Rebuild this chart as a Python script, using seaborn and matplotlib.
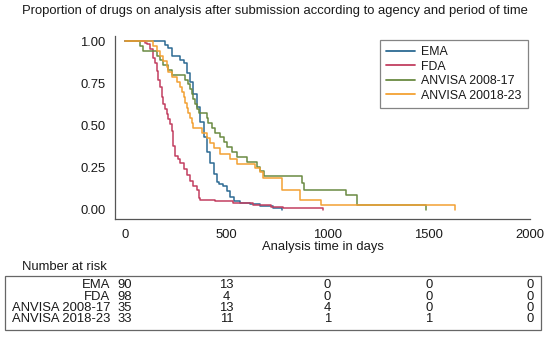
import matplotlib
matplotlib.use("Agg")
import matplotlib.pyplot as plt
import matplotlib.transforms as mtransforms
from matplotlib.patches import Rectangle
from matplotlib.lines import Line2D
import seaborn as sns
import pandas as pd

# ---------------- data ----------------
groups = ["EMA", "FDA", "ANVISA 2008-17", "ANVISA 2018-23"]
legend_labels = ["EMA", "FDA", "ANVISA 2008-17", "ANVISA 20018-23"]
colors = ["#2c6a93", "#c23f60", "#6a8a42", "#f3a133"]

ema_days = [0, 198, 214, 231, 272, 289, 305, 322, 338, 355, 371, 388, 404, 421,
            437, 454, 462, 485, 503, 520, 536, 569, 619, 668, 733, 777]
ema_surv = [1.0, 0.978, 0.956, 0.911, 0.889, 0.867, 0.811, 0.756, 0.689, 0.611,
            0.522, 0.433, 0.344, 0.278, 0.211, 0.167, 0.156, 0.144, 0.111, 0.078,
            0.056, 0.044, 0.033, 0.022, 0.011, 0.0]

fda_days = [0, 99, 109, 124, 139, 149, 158, 163, 173, 182, 190, 198, 206, 214,
            223, 231, 239, 248, 264, 272, 289, 305, 322, 338, 355, 363, 369, 446,
            535, 634, 720, 782, 979]
fda_surv = [1.0, 0.99, 0.98, 0.95, 0.90, 0.87, 0.82, 0.77, 0.73, 0.67, 0.63, 0.60,
            0.57, 0.54, 0.51, 0.47, 0.38, 0.32, 0.30, 0.28, 0.24, 0.21, 0.17, 0.14,
            0.12, 0.07, 0.061, 0.051, 0.041, 0.031, 0.020, 0.010, 0.0]

anv1_days = [0, 74, 91, 157, 173, 190, 213, 233, 297, 312, 322, 330, 338, 347,
             355, 363, 404, 412, 429, 446, 470, 487, 503, 528, 553, 602, 652, 668,
             685, 875, 884, 1089, 1147, 1485]
anv1_surv = [1.0, 0.971, 0.943, 0.914, 0.886, 0.857, 0.829, 0.800, 0.771, 0.743,
             0.714, 0.686, 0.657, 0.629, 0.600, 0.571, 0.543, 0.514, 0.486, 0.457,
             0.429, 0.400, 0.371, 0.343, 0.314, 0.286, 0.257, 0.229, 0.200, 0.157,
             0.118, 0.089, 0.030, 0.0]

anv2_days = [0, 140, 157, 173, 190, 206, 214, 231, 256, 272, 281, 289, 297, 305,
             313, 322, 330, 338, 380, 404, 421, 437, 470, 520, 553, 640, 668, 680,
             775, 866, 969, 1629]
anv2_surv = [1.0, 0.970, 0.939, 0.909, 0.879, 0.848, 0.818, 0.788, 0.758, 0.727,
             0.697, 0.667, 0.636, 0.606, 0.576, 0.545, 0.515, 0.485, 0.455, 0.424,
             0.394, 0.364, 0.333, 0.303, 0.273, 0.250, 0.227, 0.189, 0.118, 0.059,
             0.030, 0.0]

risk_times = [0, 500, 1000, 1500, 2000]
risk_ema = [90, 13, 0, 0, 0]
risk_fda = [98, 4, 0, 0, 0]
risk_anv1 = [35, 13, 4, 0, 0]
risk_anv2 = [33, 11, 1, 1, 0]

x_ticks = [0, 500, 1000, 1500, 2000]
y_ticks = [0.0, 0.25, 0.50, 0.75, 1.00]
y_ticklabels = ["0.00", "0.25", "0.50", "0.75", "1.00"]

title = "Proportion of drugs on analysis after submission according to agency and period of time"
xlabel = "Analysis time in days"

# ---------------- frame ----------------
frames = []
for g, d, s in zip(groups,
                   [ema_days, fda_days, anv1_days, anv2_days],
                   [ema_surv, fda_surv, anv1_surv, anv2_surv]):
    frames.append(pd.DataFrame({"group": g, "time": d, "surv": s}))
df = pd.concat(frames, ignore_index=True)

sns.set_style("white")
plt.rcParams["font.family"] = ["Liberation Sans", "DejaVu Sans"]
FS = 9.4
W, H = 550, 352
TXT = "#1a1a1a"
GRY = "#555555"

fig = plt.figure(figsize=(W / 100, H / 100), dpi=100)
ax = fig.add_axes([115 / W, (H - 219) / H, 415 / W, 183 / H])

sns.lineplot(data=df, x="time", y="surv", hue="group", hue_order=groups,
             palette=colors, drawstyle="steps-post", estimator=None,
             sort=False, linewidth=1.1, ax=ax, legend=False)

ax.set_xlim(-49.5, 2000)
ax.set_ylim(-0.0533, 1.0296)
ax.set_xticks(x_ticks)
ax.set_xticklabels([str(t) for t in x_ticks], fontsize=FS)
ax.set_yticks(y_ticks)
ax.set_yticklabels(y_ticklabels, fontsize=FS)
ax.set_xlabel(xlabel, fontsize=FS, labelpad=0, color=TXT)
ax.set_ylabel("")
for sp in ["top", "right"]:
    ax.spines[sp].set_visible(False)
for sp in ["left", "bottom"]:
    ax.spines[sp].set_color(GRY)
    ax.spines[sp].set_linewidth(0.9)
ax.tick_params(axis="both", direction="out", length=5, width=0.9,
               color=GRY, pad=2, labelcolor=TXT)

# legend
handles = [Line2D([], [], color=c, lw=1.3) for c in colors]
leg = ax.legend(handles, legend_labels, loc="upper right",
                bbox_to_anchor=(0.995, 0.978), borderaxespad=0,
                fontsize=8.9, frameon=True, fancybox=False,
                handlelength=2.3, handletextpad=0.55, labelspacing=0.2,
                borderpad=0.5)
leg.get_frame().set_edgecolor("#666666")
leg.get_frame().set_linewidth(0.9)
for t in leg.get_texts():
    t.set_color(TXT)

fig.text(0.5, 1 - 11 / H, title, ha="center", va="center", fontsize=FS,
         color=TXT)

# number at risk table
fig.text(22 / W, 1 - 267 / H, "Number at risk", ha="left", va="center",
         fontsize=FS, color=TXT)
fig.patches.append(Rectangle((5 / W, 1 - 330 / H), 536 / W, 54 / H,
                             transform=fig.transFigure, fill=False,
                             edgecolor="#666666", linewidth=0.9))
blend = mtransforms.blended_transform_factory(ax.transData, fig.transFigure)
row_y = [285, 296.5, 308, 319.5]
for g, counts, py in zip(groups, [risk_ema, risk_fda, risk_anv1, risk_anv2], row_y):
    fig.text(110 / W, 1 - py / H, g, ha="right", va="center", fontsize=FS,
             color=TXT)
    for t, n in zip(risk_times, counts):
        ax.text(t, 1 - py / H, str(n), transform=blend, ha="center",
                va="center", fontsize=FS, color=TXT, clip_on=False)

fig.savefig("out.png", dpi=100)
